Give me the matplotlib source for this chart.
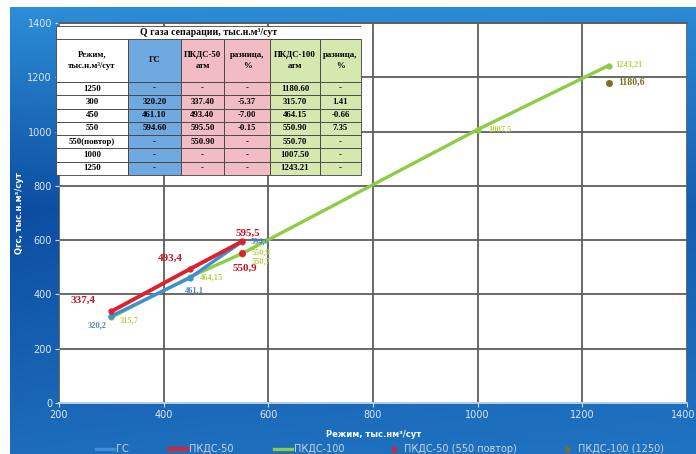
import numpy as np
import matplotlib
matplotlib.use("Agg")
import matplotlib.pyplot as plt
import matplotlib.transforms as mtransforms
from matplotlib.lines import Line2D
from matplotlib.patches import Rectangle

# ---- series data (regime, thousand m3/day -> Q gas) ----
gs_x = [300, 450, 550]
gs_y = [320.2, 461.1, 594.6]

p50_x = [300, 450, 550]
p50_y = [337.4, 493.4, 595.5]

p100_x = [300, 450, 550, 550, 1000, 1250]
p100_y = [315.7, 464.15, 550.9, 550.7, 1007.5, 1243.21]

p50_rep_x = [550]
p50_rep_y = [550.9]

p100_1250_x = [1250]
p100_1250_y = [1180.6]

# ---- table contents ----
table_title = "Q газа сепарации, тыс.н.м³/сут"
table_header = ["Режим,\nтыс.н.м³/сут", "ГС", "ПКДС-50\nатм", "разница,\n%", "ПКДС-100\nатм", "разница,\n%"]
regimes = ["1250", "300", "450", "550", "550(повтор)", "1000", "1250"]
gs_col = ["-", "320.20", "461.10", "594.60", "-", "-", "-"]
p50_col = ["-", "337.40", "493.40", "595.50", "550.90", "-", "-"]
d50_col = ["-", "-5.37", "-7.00", "-0.15", "-", "-", "-"]
p100_col = ["1180.60", "315.70", "464.15", "550.90", "550.70", "1007.50", "1243.21"]
d100_col = ["-", "1.41", "-0.66", "7.35", "-", "-", "-"]

x_ticks = [200, 400, 600, 800, 1000, 1200, 1400]
y_ticks = [0, 200, 400, 600, 800, 1000, 1200, 1400]

W, H = 696, 454
fig = plt.figure(figsize=(W / 100, H / 100), dpi=100)
fig.patch.set_facecolor("white")

def frac(x0, y0, x1, y1):
    return [x0 / W, 1 - y1 / H, (x1 - x0) / W, (y1 - y0) / H]

# ---- blue gradient backdrop ----
bg = fig.add_axes(frac(10, 7, 696, 454), zorder=0)
ny, nx = 200, 300
yy = np.linspace(0, 1, ny)[:, None]
xx = np.linspace(0, 1, nx)[None, :]
top = np.array([0x2e, 0x8e, 0xd8]) / 255
mid = np.array([0x0c, 0x4c, 0xa0]) / 255
bot = np.array([0x1d, 0x6c, 0xba]) / 255
t = yy[..., None]
col_y = np.where(t < 0.45, top + (mid - top) * (t / 0.45), mid + (bot - mid) * ((t - 0.45) / 0.55))
lift = (xx[..., None] ** 0.7) * 0.35
img = col_y + (np.array([0x24, 0x80, 0xd0]) / 255 - col_y) * lift
img = np.broadcast_to(img, (ny, nx, 3))
bg.imshow(np.clip(img, 0, 1), aspect="auto", extent=[0, 1, 0, 1], origin="upper")
bg.set_axis_off()

# ---- main chart ----
ax = fig.add_axes(frac(59, 23, 687, 403), zorder=1)
ax.set_facecolor("white")
ax.set_xlim(200, 1400)
ax.set_ylim(0, 1400)
ax.set_xticks(x_ticks)
ax.set_yticks(y_ticks)
ax.grid(True, color="#5e5e5e", lw=1.3)
ax.set_axisbelow(True)
for s in ["left", "right"]:
    ax.spines[s].set_visible(False)
ax.spines["top"].set_color("#5e5e5e")
ax.spines["top"].set_linewidth(1.3)
ax.spines["bottom"].set_color("#cfe0f2")
ax.spines["bottom"].set_linewidth(1.2)
ax.tick_params(colors="#cfe0f2", labelsize=7, length=3, width=0.8, pad=2)
for lab in ax.get_xticklabels() + ax.get_yticklabels():
    lab.set_color("#dbe6f3")
# keep the last x tick label inside the figure edge
last = ax.get_xticklabels()[-1]
last.set_transform(last.get_transform() +
                   mtransforms.ScaledTranslation(-4 / 100, 0, fig.dpi_scale_trans))

ax.set_xlabel("Режим, тыс.нм³/сут", color="white", fontsize=6, fontweight="bold")
ax.set_ylabel("Qгс, тыс.н.м³/сут", color="white", fontsize=6, fontweight="bold")
ax.xaxis.set_label_coords(0.501, -0.072)
ax.yaxis.set_label_coords(-0.056, 0.5)

c_blue = "#3f8fd8"
c_red = "#d9232d"
c_green = "#8ccd45"
c_olive = "#7d6f1e"

ax.plot(p100_x, p100_y, color=c_green, lw=2.4, marker="o", ms=3.5, zorder=3)
ax.plot(gs_x, gs_y, color=c_blue, lw=2.4, marker="o", ms=3.5, zorder=4)
ax.plot(p50_x, p50_y, color=c_red, lw=2.8, marker="o", ms=3.5, zorder=5)
ax.plot(p50_rep_x, p50_rep_y, ls="none", color=c_red, marker="o", ms=4, zorder=6)
ax.plot(p100_1250_x, p100_1250_y, ls="none", color=c_olive, marker="o", ms=4, zorder=6)

def fmt(v):
    s = ("%.2f" % v).rstrip("0").rstrip(".")
    return s.replace(".", ",")

lab_font = dict(family="Liberation Serif", fontweight="bold")

# value labels: offsets in points relative to each marker
red_off = [(-20, 8, "center"), (-14, 8, "center"), (4, 6, "center")]
for x, y, (dx, dy, ha) in zip(p50_x, p50_y, red_off):
    ax.annotate(fmt(y), (x, y), xytext=(dx, dy), textcoords="offset points",
                ha=ha, va="center", color="#c8141e", fontsize=8, zorder=8, **lab_font)
for x, y in zip(p50_rep_x, p50_rep_y):
    ax.annotate(fmt(y), (x, y), xytext=(2, -11), textcoords="offset points",
                ha="center", va="center", color="#c8141e", fontsize=8, zorder=8, **lab_font)

blue_off = [(-10, -7, "center"), (3, -9, "center"), (6, 0, "left")]
for x, y, (dx, dy, ha) in zip(gs_x, gs_y, blue_off):
    ax.annotate(fmt(y), (x, y), xytext=(dx, dy), textcoords="offset points",
                ha=ha, va="center", color="#4a86c8", fontsize=6, zorder=8, **lab_font)

green_off = [(6, -2), (7, 0), (7, 1), (7, -6), (8, 0), (5, 1)]
for x, y, (dx, dy) in zip(p100_x, p100_y, green_off):
    ax.annotate(fmt(y), (x, y), xytext=(dx, dy), textcoords="offset points",
                ha="left", va="center", color="#b4d24a", fontsize=6, zorder=8, **lab_font)
for x, y in zip(p100_1250_x, p100_1250_y):
    ax.annotate(fmt(y), (x, y), xytext=(7, 0), textcoords="offset points",
                ha="left", va="center", color=c_olive, fontsize=7, zorder=8, **lab_font)

# ---- legend along the bottom ----
handles = [
    Line2D([], [], color=c_blue, lw=2.4),
    Line2D([], [], color=c_red, lw=2.8),
    Line2D([], [], color=c_green, lw=2.4),
    Line2D([], [], ls="none", color=c_red, marker="o", ms=3),
    Line2D([], [], ls="none", color=c_olive, marker="o", ms=3),
]
names = ["ГС", "ПКДС-50", "ПКДС-100", "ПКДС-50 (550 повтор)", "ПКДС-100 (1250)"]
leg = fig.legend(handles, names, loc="center", bbox_to_anchor=(0.546, 1 - 449 / H), ncol=5,
                 frameon=False, fontsize=7, handlelength=1.8, handletextpad=0.2,
                 columnspacing=4.2)
for txt in leg.get_texts():
    txt.set_color("#c9d6e6")

# ---- data table in the upper-left corner ----
tax = fig.add_axes(frac(56, 26, 361, 175), zorder=5)
tax.set_axis_off()
tax.set_xlim(0, 1)
tax.set_ylim(0, 1)

title_h = 13 / 149
tax.add_patch(Rectangle((0, 1 - title_h), 1, title_h, facecolor="white",
                        edgecolor="#404040", lw=0.6))
tax.text(0.5, 1 - title_h / 2, table_title, ha="center", va="center",
         fontsize=7, **lab_font)

rows = [list(r) for r in zip(regimes, gs_col, p50_col, d50_col, p100_col, d100_col)]
col_w = [72, 53, 43, 46, 50, 41]
col_w = [w / sum(col_w) for w in col_w]
fills = ["white", "#6fa9e0", "#f2bcc4", "#f2bcc4", "#d4e8b0", "#d4e8b0"]

tbl = tax.table(cellText=rows, colLabels=table_header, colWidths=col_w,
                cellLoc="center", bbox=[0, 0, 1, 1 - title_h])
tbl.auto_set_font_size(False)
row_h = 1.0
for (r, c), cell in tbl.get_celld().items():
    cell.set_edgecolor("#404040")
    cell.set_linewidth(0.6)
    cell.set_facecolor(fills[c])
    cell.set_height(43 / 13.3 * row_h if r == 0 else row_h)
    cell.get_text().set_fontsize(6.3)
    cell.get_text().set_fontfamily("Liberation Serif")
    cell.get_text().set_fontweight("bold")
    if r == 0:
        cell.get_text().set_linespacing(1.6)

fig.savefig("out.png", dpi=100)
